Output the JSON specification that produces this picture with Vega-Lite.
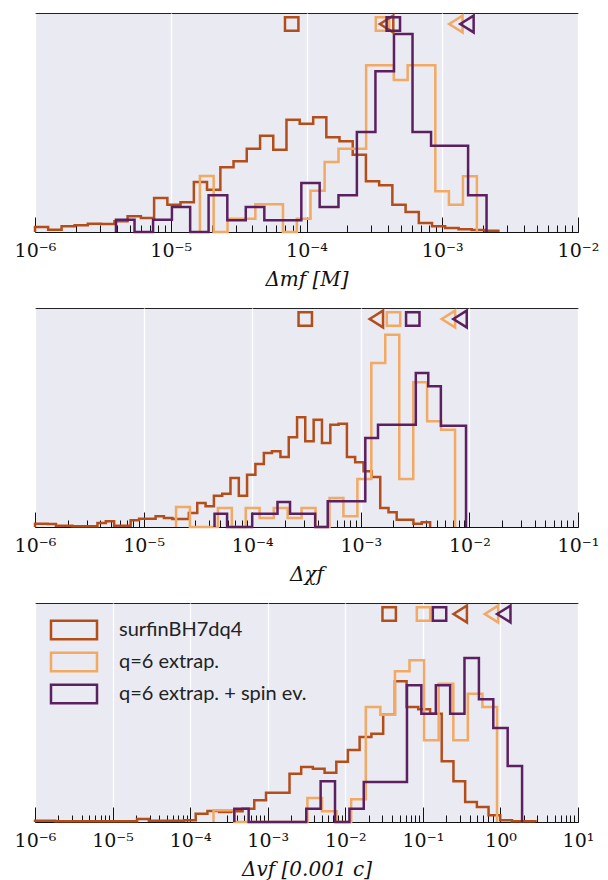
{
"$schema":"https://vega.github.io/schema/vega-lite/v6.json",
"padding":{"left":13,"top":10,"right":5,"bottom":5},
"background":"white",
"spacing":15,
"resolve":{"legend":{"color":"independent"}},
"config":{"view":{"fill":"#eaeaf2","stroke":"#222","strokeWidth":1},"font":"Liberation Serif"},
"datasets":{
"h":[
{"p":1,"s":"surfinBH7dq4","i":0,"x":1e-6,"y":0},{"p":1,"s":"surfinBH7dq4","i":1,"x":1e-6,"y":15},{"p":1,"s":"surfinBH7dq4","i":2,"x":1.25e-6,"y":7},{"p":1,"s":"surfinBH7dq4","i":3,"x":1.57e-6,"y":17},{"p":1,"s":"surfinBH7dq4","i":4,"x":1.96e-6,"y":20},{"p":1,"s":"surfinBH7dq4","i":5,"x":2.45e-6,"y":25},{"p":1,"s":"surfinBH7dq4","i":6,"x":3.07e-6,"y":24},{"p":1,"s":"surfinBH7dq4","i":7,"x":3.85e-6,"y":32},{"p":1,"s":"surfinBH7dq4","i":8,"x":4.81e-6,"y":47},{"p":1,"s":"surfinBH7dq4","i":9,"x":6.03e-6,"y":42},{"p":1,"s":"surfinBH7dq4","i":10,"x":7.54e-6,"y":102},{"p":1,"s":"surfinBH7dq4","i":11,"x":9.44e-6,"y":82},{"p":1,"s":"surfinBH7dq4","i":12,"x":1.18e-5,"y":89},{"p":1,"s":"surfinBH7dq4","i":13,"x":1.48e-5,"y":150},{"p":1,"s":"surfinBH7dq4","i":14,"x":1.85e-5,"y":127},{"p":1,"s":"surfinBH7dq4","i":15,"x":2.32e-5,"y":194},{"p":1,"s":"surfinBH7dq4","i":16,"x":2.9e-5,"y":212},{"p":1,"s":"surfinBH7dq4","i":17,"x":3.63e-5,"y":250},{"p":1,"s":"surfinBH7dq4","i":18,"x":4.55e-5,"y":289},{"p":1,"s":"surfinBH7dq4","i":19,"x":5.69e-5,"y":247},{"p":1,"s":"surfinBH7dq4","i":20,"x":7.12e-5,"y":337},{"p":1,"s":"surfinBH7dq4","i":21,"x":8.91e-5,"y":325},{"p":1,"s":"surfinBH7dq4","i":22,"x":1.12e-4,"y":344},{"p":1,"s":"surfinBH7dq4","i":23,"x":1.4e-4,"y":284},{"p":1,"s":"surfinBH7dq4","i":24,"x":1.75e-4,"y":272},{"p":1,"s":"surfinBH7dq4","i":25,"x":2.19e-4,"y":232},{"p":1,"s":"surfinBH7dq4","i":26,"x":2.74e-4,"y":152},{"p":1,"s":"surfinBH7dq4","i":27,"x":3.43e-4,"y":140},{"p":1,"s":"surfinBH7dq4","i":28,"x":4.29e-4,"y":82},{"p":1,"s":"surfinBH7dq4","i":29,"x":5.37e-4,"y":60},{"p":1,"s":"surfinBH7dq4","i":30,"x":6.72e-4,"y":27},{"p":1,"s":"surfinBH7dq4","i":31,"x":8.41e-4,"y":17},{"p":1,"s":"surfinBH7dq4","i":32,"x":1.05e-3,"y":12},{"p":1,"s":"surfinBH7dq4","i":33,"x":1.32e-3,"y":8},{"p":1,"s":"surfinBH7dq4","i":34,"x":1.65e-3,"y":6},{"p":1,"s":"surfinBH7dq4","i":35,"x":2.07e-3,"y":4},{"p":1,"s":"surfinBH7dq4","i":36,"x":2.59e-3,"y":0},
{"p":1,"s":"q=6 extrap.","i":0,"x":1.64e-5,"y":0},{"p":1,"s":"q=6 extrap.","i":1,"x":1.64e-5,"y":168},{"p":1,"s":"q=6 extrap.","i":2,"x":2.07e-5,"y":0},{"p":1,"s":"q=6 extrap.","i":3,"x":2.62e-5,"y":40},{"p":1,"s":"q=6 extrap.","i":4,"x":3.32e-5,"y":40},{"p":1,"s":"q=6 extrap.","i":5,"x":4.2e-5,"y":83},{"p":1,"s":"q=6 extrap.","i":6,"x":5.31e-5,"y":83},{"p":1,"s":"q=6 extrap.","i":7,"x":6.71e-5,"y":0},{"p":1,"s":"q=6 extrap.","i":8,"x":8.49e-5,"y":40},{"p":1,"s":"q=6 extrap.","i":9,"x":1.07e-4,"y":124},{"p":1,"s":"q=6 extrap.","i":10,"x":1.36e-4,"y":210},{"p":1,"s":"q=6 extrap.","i":11,"x":1.72e-4,"y":250},{"p":1,"s":"q=6 extrap.","i":12,"x":2.17e-4,"y":250},{"p":1,"s":"q=6 extrap.","i":13,"x":2.75e-4,"y":500},{"p":1,"s":"q=6 extrap.","i":14,"x":3.48e-4,"y":500},{"p":1,"s":"q=6 extrap.","i":15,"x":4.4e-4,"y":456},{"p":1,"s":"q=6 extrap.","i":16,"x":5.56e-4,"y":500},{"p":1,"s":"q=6 extrap.","i":17,"x":7.03e-4,"y":500},{"p":1,"s":"q=6 extrap.","i":18,"x":8.89e-4,"y":122},{"p":1,"s":"q=6 extrap.","i":19,"x":1.12e-3,"y":82},{"p":1,"s":"q=6 extrap.","i":20,"x":1.42e-3,"y":167},{"p":1,"s":"q=6 extrap.","i":21,"x":1.8e-3,"y":0},
{"p":1,"s":"q=6 extrap. + spin ev.","i":0,"x":3.95e-6,"y":0},{"p":1,"s":"q=6 extrap. + spin ev.","i":1,"x":3.95e-6,"y":37},{"p":1,"s":"q=6 extrap. + spin ev.","i":2,"x":5.41e-6,"y":0},{"p":1,"s":"q=6 extrap. + spin ev.","i":3,"x":7.41e-6,"y":37},{"p":1,"s":"q=6 extrap. + spin ev.","i":4,"x":1.02e-5,"y":75},{"p":1,"s":"q=6 extrap. + spin ev.","i":5,"x":1.39e-5,"y":0},{"p":1,"s":"q=6 extrap. + spin ev.","i":6,"x":1.9e-5,"y":110},{"p":1,"s":"q=6 extrap. + spin ev.","i":7,"x":2.61e-5,"y":35},{"p":1,"s":"q=6 extrap. + spin ev.","i":8,"x":3.57e-5,"y":75},{"p":1,"s":"q=6 extrap. + spin ev.","i":9,"x":4.89e-5,"y":35},{"p":1,"s":"q=6 extrap. + spin ev.","i":10,"x":6.69e-5,"y":35},{"p":1,"s":"q=6 extrap. + spin ev.","i":11,"x":9.16e-5,"y":147},{"p":1,"s":"q=6 extrap. + spin ev.","i":12,"x":1.25e-4,"y":75},{"p":1,"s":"q=6 extrap. + spin ev.","i":13,"x":1.72e-4,"y":110},{"p":1,"s":"q=6 extrap. + spin ev.","i":14,"x":2.35e-4,"y":300},{"p":1,"s":"q=6 extrap. + spin ev.","i":15,"x":3.22e-4,"y":482},{"p":1,"s":"q=6 extrap. + spin ev.","i":16,"x":4.41e-4,"y":594},{"p":1,"s":"q=6 extrap. + spin ev.","i":17,"x":6.04e-4,"y":300},{"p":1,"s":"q=6 extrap. + spin ev.","i":18,"x":8.27e-4,"y":259},{"p":1,"s":"q=6 extrap. + spin ev.","i":19,"x":1.13e-3,"y":259},{"p":1,"s":"q=6 extrap. + spin ev.","i":20,"x":1.55e-3,"y":110},{"p":1,"s":"q=6 extrap. + spin ev.","i":21,"x":2.12e-3,"y":0},
{"p":2,"s":"surfinBH7dq4","i":0,"x":1e-6,"y":0},{"p":2,"s":"surfinBH7dq4","i":1,"x":1e-6,"y":10},{"p":2,"s":"surfinBH7dq4","i":2,"x":1.31e-6,"y":9},{"p":2,"s":"surfinBH7dq4","i":3,"x":1.56e-6,"y":4},{"p":2,"s":"surfinBH7dq4","i":4,"x":1.86e-6,"y":4},{"p":2,"s":"surfinBH7dq4","i":5,"x":2.21e-6,"y":2},{"p":2,"s":"surfinBH7dq4","i":6,"x":2.64e-6,"y":2},{"p":2,"s":"surfinBH7dq4","i":7,"x":3.15e-6,"y":2},{"p":2,"s":"surfinBH7dq4","i":8,"x":3.76e-6,"y":12},{"p":2,"s":"surfinBH7dq4","i":9,"x":4.49e-6,"y":17},{"p":2,"s":"surfinBH7dq4","i":10,"x":5.35e-6,"y":4},{"p":2,"s":"surfinBH7dq4","i":11,"x":6.38e-6,"y":4},{"p":2,"s":"surfinBH7dq4","i":12,"x":7.6e-6,"y":20},{"p":2,"s":"surfinBH7dq4","i":13,"x":9.08e-6,"y":25},{"p":2,"s":"surfinBH7dq4","i":14,"x":1.08e-5,"y":25},{"p":2,"s":"surfinBH7dq4","i":15,"x":1.29e-5,"y":32},{"p":2,"s":"surfinBH7dq4","i":16,"x":1.54e-5,"y":27},{"p":2,"s":"surfinBH7dq4","i":17,"x":1.84e-5,"y":24},{"p":2,"s":"surfinBH7dq4","i":18,"x":2.19e-5,"y":24},{"p":2,"s":"surfinBH7dq4","i":19,"x":2.61e-5,"y":42},{"p":2,"s":"surfinBH7dq4","i":20,"x":3.12e-5,"y":72},{"p":2,"s":"surfinBH7dq4","i":21,"x":3.72e-5,"y":62},{"p":2,"s":"surfinBH7dq4","i":22,"x":4.44e-5,"y":94},{"p":2,"s":"surfinBH7dq4","i":23,"x":5.3e-5,"y":100},{"p":2,"s":"surfinBH7dq4","i":24,"x":6.31e-5,"y":147},{"p":2,"s":"surfinBH7dq4","i":25,"x":7.53e-5,"y":94},{"p":2,"s":"surfinBH7dq4","i":26,"x":8.97e-5,"y":157},{"p":2,"s":"surfinBH7dq4","i":27,"x":1.07e-4,"y":189},{"p":2,"s":"surfinBH7dq4","i":28,"x":1.28e-4,"y":222},{"p":2,"s":"surfinBH7dq4","i":29,"x":1.52e-4,"y":227},{"p":2,"s":"surfinBH7dq4","i":30,"x":1.82e-4,"y":210},{"p":2,"s":"surfinBH7dq4","i":31,"x":2.17e-4,"y":269},{"p":2,"s":"surfinBH7dq4","i":32,"x":2.59e-4,"y":329},{"p":2,"s":"surfinBH7dq4","i":33,"x":3.08e-4,"y":257},{"p":2,"s":"surfinBH7dq4","i":34,"x":3.68e-4,"y":322},{"p":2,"s":"surfinBH7dq4","i":35,"x":4.39e-4,"y":252},{"p":2,"s":"surfinBH7dq4","i":36,"x":5.24e-4,"y":307},{"p":2,"s":"surfinBH7dq4","i":37,"x":6.24e-4,"y":310},{"p":2,"s":"surfinBH7dq4","i":38,"x":7.45e-4,"y":210},{"p":2,"s":"surfinBH7dq4","i":39,"x":8.87e-4,"y":194},{"p":2,"s":"surfinBH7dq4","i":40,"x":1.06e-3,"y":167},{"p":2,"s":"surfinBH7dq4","i":41,"x":1.26e-3,"y":150},{"p":2,"s":"surfinBH7dq4","i":42,"x":1.51e-3,"y":57},{"p":2,"s":"surfinBH7dq4","i":43,"x":1.8e-3,"y":44},{"p":2,"s":"surfinBH7dq4","i":44,"x":2.14e-3,"y":22},{"p":2,"s":"surfinBH7dq4","i":45,"x":2.56e-3,"y":22},{"p":2,"s":"surfinBH7dq4","i":46,"x":3.05e-3,"y":10},{"p":2,"s":"surfinBH7dq4","i":47,"x":3.64e-3,"y":14},{"p":2,"s":"surfinBH7dq4","i":48,"x":4.35e-3,"y":0},
{"p":2,"s":"q=6 extrap.","i":0,"x":1.99e-5,"y":0},{"p":2,"s":"q=6 extrap.","i":1,"x":1.99e-5,"y":60},{"p":2,"s":"q=6 extrap.","i":2,"x":2.67e-5,"y":0},{"p":2,"s":"q=6 extrap.","i":3,"x":3.59e-5,"y":0},{"p":2,"s":"q=6 extrap.","i":4,"x":4.83e-5,"y":57},{"p":2,"s":"q=6 extrap.","i":5,"x":6.49e-5,"y":0},{"p":2,"s":"q=6 extrap.","i":6,"x":8.72e-5,"y":57},{"p":2,"s":"q=6 extrap.","i":7,"x":1.17e-4,"y":27},{"p":2,"s":"q=6 extrap.","i":8,"x":1.58e-4,"y":57},{"p":2,"s":"q=6 extrap.","i":9,"x":2.12e-4,"y":27},{"p":2,"s":"q=6 extrap.","i":10,"x":2.85e-4,"y":57},{"p":2,"s":"q=6 extrap.","i":11,"x":3.83e-4,"y":0},{"p":2,"s":"q=6 extrap.","i":12,"x":5.15e-4,"y":87},{"p":2,"s":"q=6 extrap.","i":13,"x":6.92e-4,"y":32},{"p":2,"s":"q=6 extrap.","i":14,"x":9.3e-4,"y":144},{"p":2,"s":"q=6 extrap.","i":15,"x":1.25e-3,"y":492},{"p":2,"s":"q=6 extrap.","i":16,"x":1.68e-3,"y":577},{"p":2,"s":"q=6 extrap.","i":17,"x":2.26e-3,"y":144},{"p":2,"s":"q=6 extrap.","i":18,"x":3.04e-3,"y":434},{"p":2,"s":"q=6 extrap.","i":19,"x":4.08e-3,"y":317},{"p":2,"s":"q=6 extrap.","i":20,"x":5.49e-3,"y":292},{"p":2,"s":"q=6 extrap.","i":21,"x":7.38e-3,"y":0},
{"p":2,"s":"q=6 extrap. + spin ev.","i":0,"x":4.5e-5,"y":0},{"p":2,"s":"q=6 extrap. + spin ev.","i":1,"x":4.5e-5,"y":40},{"p":2,"s":"q=6 extrap. + spin ev.","i":2,"x":5.87e-5,"y":0},{"p":2,"s":"q=6 extrap. + spin ev.","i":3,"x":7.67e-5,"y":0},{"p":2,"s":"q=6 extrap. + spin ev.","i":4,"x":1e-4,"y":40},{"p":2,"s":"q=6 extrap. + spin ev.","i":5,"x":1.31e-4,"y":40},{"p":2,"s":"q=6 extrap. + spin ev.","i":6,"x":1.71e-4,"y":75},{"p":2,"s":"q=6 extrap. + spin ev.","i":7,"x":2.23e-4,"y":40},{"p":2,"s":"q=6 extrap. + spin ev.","i":8,"x":2.91e-4,"y":40},{"p":2,"s":"q=6 extrap. + spin ev.","i":9,"x":3.8e-4,"y":0},{"p":2,"s":"q=6 extrap. + spin ev.","i":10,"x":4.96e-4,"y":77},{"p":2,"s":"q=6 extrap. + spin ev.","i":11,"x":6.47e-4,"y":77},{"p":2,"s":"q=6 extrap. + spin ev.","i":12,"x":8.45e-4,"y":77},{"p":2,"s":"q=6 extrap. + spin ev.","i":13,"x":1.1e-3,"y":267},{"p":2,"s":"q=6 extrap. + spin ev.","i":14,"x":1.44e-3,"y":307},{"p":2,"s":"q=6 extrap. + spin ev.","i":15,"x":1.88e-3,"y":307},{"p":2,"s":"q=6 extrap. + spin ev.","i":16,"x":2.45e-3,"y":307},{"p":2,"s":"q=6 extrap. + spin ev.","i":17,"x":3.21e-3,"y":462},{"p":2,"s":"q=6 extrap. + spin ev.","i":18,"x":4.18e-3,"y":422},{"p":2,"s":"q=6 extrap. + spin ev.","i":19,"x":5.46e-3,"y":304},{"p":2,"s":"q=6 extrap. + spin ev.","i":20,"x":7.13e-3,"y":304},{"p":2,"s":"q=6 extrap. + spin ev.","i":21,"x":9.31e-3,"y":0},
{"p":3,"s":"surfinBH7dq4","i":0,"x":1e-6,"y":0},{"p":3,"s":"surfinBH7dq4","i":1,"x":1e-6,"y":4},{"p":3,"s":"surfinBH7dq4","i":2,"x":1.29e-6,"y":4},{"p":3,"s":"surfinBH7dq4","i":3,"x":1.82e-6,"y":2},{"p":3,"s":"surfinBH7dq4","i":4,"x":2.58e-6,"y":2},{"p":3,"s":"surfinBH7dq4","i":5,"x":3.65e-6,"y":2},{"p":3,"s":"surfinBH7dq4","i":6,"x":5.16e-6,"y":2},{"p":3,"s":"surfinBH7dq4","i":7,"x":7.31e-6,"y":2},{"p":3,"s":"surfinBH7dq4","i":8,"x":1.04e-5,"y":2},{"p":3,"s":"surfinBH7dq4","i":9,"x":1.47e-5,"y":2},{"p":3,"s":"surfinBH7dq4","i":10,"x":2.07e-5,"y":9},{"p":3,"s":"surfinBH7dq4","i":11,"x":2.94e-5,"y":4},{"p":3,"s":"surfinBH7dq4","i":12,"x":4.16e-5,"y":4},{"p":3,"s":"surfinBH7dq4","i":13,"x":5.89e-5,"y":4},{"p":3,"s":"surfinBH7dq4","i":14,"x":8.34e-5,"y":5},{"p":3,"s":"surfinBH7dq4","i":15,"x":1.18e-4,"y":25},{"p":3,"s":"surfinBH7dq4","i":16,"x":1.67e-4,"y":33},{"p":3,"s":"surfinBH7dq4","i":17,"x":2.37e-4,"y":30},{"p":3,"s":"surfinBH7dq4","i":18,"x":3.35e-4,"y":32},{"p":3,"s":"surfinBH7dq4","i":19,"x":4.74e-4,"y":40},{"p":3,"s":"surfinBH7dq4","i":20,"x":6.71e-4,"y":65},{"p":3,"s":"surfinBH7dq4","i":21,"x":9.51e-4,"y":88},{"p":3,"s":"surfinBH7dq4","i":22,"x":1.35e-3,"y":88},{"p":3,"s":"surfinBH7dq4","i":23,"x":1.91e-3,"y":145},{"p":3,"s":"surfinBH7dq4","i":24,"x":2.7e-3,"y":165},{"p":3,"s":"surfinBH7dq4","i":25,"x":3.82e-3,"y":160},{"p":3,"s":"surfinBH7dq4","i":26,"x":5.41e-3,"y":148},{"p":3,"s":"surfinBH7dq4","i":27,"x":7.66e-3,"y":181},{"p":3,"s":"surfinBH7dq4","i":28,"x":1.08e-2,"y":216},{"p":3,"s":"surfinBH7dq4","i":29,"x":1.53e-2,"y":255},{"p":3,"s":"surfinBH7dq4","i":30,"x":2.17e-2,"y":265},{"p":3,"s":"surfinBH7dq4","i":31,"x":3.08e-2,"y":322},{"p":3,"s":"surfinBH7dq4","i":32,"x":4.36e-2,"y":422},{"p":3,"s":"surfinBH7dq4","i":33,"x":6.17e-2,"y":345},{"p":3,"s":"surfinBH7dq4","i":34,"x":8.73e-2,"y":338},{"p":3,"s":"surfinBH7dq4","i":35,"x":0.124,"y":325},{"p":3,"s":"surfinBH7dq4","i":36,"x":0.175,"y":182},{"p":3,"s":"surfinBH7dq4","i":37,"x":0.248,"y":122},{"p":3,"s":"surfinBH7dq4","i":38,"x":0.351,"y":60},{"p":3,"s":"surfinBH7dq4","i":39,"x":0.497,"y":45},{"p":3,"s":"surfinBH7dq4","i":40,"x":0.703,"y":20},{"p":3,"s":"surfinBH7dq4","i":41,"x":0.995,"y":5},{"p":3,"s":"surfinBH7dq4","i":42,"x":1.409,"y":2},{"p":3,"s":"surfinBH7dq4","i":43,"x":1.995,"y":2},{"p":3,"s":"surfinBH7dq4","i":44,"x":2.825,"y":0},
{"p":3,"s":"q=6 extrap.","i":0,"x":2.0e-4,"y":0},{"p":3,"s":"q=6 extrap.","i":1,"x":2.0e-4,"y":35},{"p":3,"s":"q=6 extrap.","i":2,"x":3.72e-4,"y":0},{"p":3,"s":"q=6 extrap.","i":3,"x":3.25e-3,"y":72},{"p":3,"s":"q=6 extrap.","i":4,"x":5.01e-3,"y":32},{"p":3,"s":"q=6 extrap.","i":5,"x":7.73e-3,"y":0},{"p":3,"s":"q=6 extrap.","i":6,"x":1.19e-2,"y":68},{"p":3,"s":"q=6 extrap.","i":7,"x":1.84e-2,"y":345},{"p":3,"s":"q=6 extrap.","i":8,"x":2.83e-2,"y":322},{"p":3,"s":"q=6 extrap.","i":9,"x":4.37e-2,"y":452},{"p":3,"s":"q=6 extrap.","i":10,"x":6.73e-2,"y":485},{"p":3,"s":"q=6 extrap.","i":11,"x":0.1037,"y":245},{"p":3,"s":"q=6 extrap.","i":12,"x":0.16,"y":415},{"p":3,"s":"q=6 extrap.","i":13,"x":0.247,"y":245},{"p":3,"s":"q=6 extrap.","i":14,"x":0.38,"y":385},{"p":3,"s":"q=6 extrap.","i":15,"x":0.586,"y":345},{"p":3,"s":"q=6 extrap.","i":16,"x":0.904,"y":0},
{"p":3,"s":"q=6 extrap. + spin ev.","i":0,"x":3.71e-4,"y":0},{"p":3,"s":"q=6 extrap. + spin ev.","i":1,"x":3.71e-4,"y":40},{"p":3,"s":"q=6 extrap. + spin ev.","i":2,"x":5.68e-4,"y":0},{"p":3,"s":"q=6 extrap. + spin ev.","i":3,"x":3.14e-3,"y":40},{"p":3,"s":"q=6 extrap. + spin ev.","i":4,"x":4.81e-3,"y":122},{"p":3,"s":"q=6 extrap. + spin ev.","i":5,"x":7.37e-3,"y":0},{"p":3,"s":"q=6 extrap. + spin ev.","i":6,"x":1.13e-2,"y":40},{"p":3,"s":"q=6 extrap. + spin ev.","i":7,"x":1.73e-2,"y":120},{"p":3,"s":"q=6 extrap. + spin ev.","i":8,"x":6.24e-2,"y":410},{"p":3,"s":"q=6 extrap. + spin ev.","i":9,"x":9.56e-2,"y":325},{"p":3,"s":"q=6 extrap. + spin ev.","i":10,"x":0.147,"y":410},{"p":3,"s":"q=6 extrap. + spin ev.","i":11,"x":0.225,"y":325},{"p":3,"s":"q=6 extrap. + spin ev.","i":12,"x":0.344,"y":492},{"p":3,"s":"q=6 extrap. + spin ev.","i":13,"x":0.528,"y":368},{"p":3,"s":"q=6 extrap. + spin ev.","i":14,"x":0.809,"y":282},{"p":3,"s":"q=6 extrap. + spin ev.","i":15,"x":1.24,"y":168},{"p":3,"s":"q=6 extrap. + spin ev.","i":16,"x":1.901,"y":0}
],
"m":[
{"p":1,"s":"surfinBH7dq4","stat":"median","x":7.78e-5,"y":624},{"p":1,"s":"q=6 extrap.","stat":"median","x":3.63e-4,"y":624},{"p":1,"s":"surfinBH7dq4","stat":"95th percentile","x":3.89e-4,"y":624},{"p":1,"s":"q=6 extrap. + spin ev.","stat":"median","x":4.36e-4,"y":624},{"p":1,"s":"q=6 extrap.","stat":"95th percentile","x":1.26e-3,"y":624},{"p":1,"s":"q=6 extrap. + spin ev.","stat":"95th percentile","x":1.52e-3,"y":624},
{"p":2,"s":"surfinBH7dq4","stat":"median","x":3.08e-4,"y":624},{"p":2,"s":"surfinBH7dq4","stat":"95th percentile","x":1.39e-3,"y":624},{"p":2,"s":"q=6 extrap.","stat":"median","x":2.0e-3,"y":624},{"p":2,"s":"q=6 extrap.","stat":"95th percentile","x":6.41e-3,"y":624},{"p":2,"s":"q=6 extrap. + spin ev.","stat":"median","x":3.01e-3,"y":624},{"p":2,"s":"q=6 extrap. + spin ev.","stat":"95th percentile","x":8.2e-3,"y":624},
{"p":3,"s":"surfinBH7dq4","stat":"median","x":3.68e-2,"y":624},{"p":3,"s":"surfinBH7dq4","stat":"95th percentile","x":0.303,"y":624},{"p":3,"s":"q=6 extrap.","stat":"median","x":0.102,"y":624},{"p":3,"s":"q=6 extrap.","stat":"95th percentile","x":0.766,"y":624},{"p":3,"s":"q=6 extrap. + spin ev.","stat":"median","x":0.164,"y":624},{"p":3,"s":"q=6 extrap. + spin ev.","stat":"95th percentile","x":1.104,"y":624}
]
},
"vconcat":[
{"width":543,"height":219,
"layer":[
{"data":{"name":"h"},"transform":[{"filter":"datum.p == 1 && datum.s == 'surfinBH7dq4'"}],"mark":{"type":"line","interpolate":"step-after","strokeWidth":2.5},
"encoding":{
"x":{"field":"x","type":"quantitative","title":"Δmf [M]","scale":{"type":"log","domain":[1e-6,0.01],"nice":false},
"axis":{"values":[1e-6,2e-6,3e-6,4e-6,5e-6,6e-6,7e-6,8e-6,9e-6,1e-5,2e-5,3e-5,4e-5,5e-5,6e-5,7e-5,8e-5,9e-5,1e-4,2e-4,3e-4,4e-4,5e-4,6e-4,7e-4,8e-4,9e-4,1e-3,2e-3,3e-3,4e-3,5e-3,6e-3,7e-3,8e-3,9e-3,1e-2],
"labelExpr":"abs(log(datum.value)/LN10 - round(log(datum.value)/LN10)) < 0.001 ? '10' + (round(log(datum.value)/LN10) < 0 ? '⁻' : '') + ['⁰','¹','²','³','⁴','⁵','⁶','⁷','⁸','⁹'][abs(round(log(datum.value)/LN10))] : ''",
"labelFont":"DejaVu Serif","labelFontSize":19,"labelColor":"#111","labelOverlap":false,"labelFlush":false,"labelBound":false,"labelPadding":24,
"tickSize":{"condition":{"test":"abs(log(datum.value)/LN10 - round(log(datum.value)/LN10)) < 0.001","value":-15},"value":-7},
"tickColor":"#111","tickWidth":1,"domainColor":"#111","domainWidth":1,
"grid":true,"gridColor":"white","gridWidth":1.3,"gridOpacity":{"condition":{"test":"abs(log(datum.value)/LN10 - round(log(datum.value)/LN10)) < 0.001","value":1},"value":0},
"titleFont":"DejaVu Serif","titleFontSize":20,"titleFontWeight":"normal","titleFontStyle":"italic","titleColor":"#111","titlePadding":1}},
"y":{"field":"y","type":"quantitative","scale":{"domain":[0,657],"nice":false,"zero":false},"axis":null},
"order":{"field":"i"},
"color":{"field":"s","type":"nominal","scale":{"domain":["surfinBH7dq4","q=6 extrap.","q=6 extrap. + spin ev."],"range":["#b34e1b","#f1a963","#5b2060"]},"legend":null}}},
{"data":{"name":"h"},"transform":[{"filter":"datum.p == 1 && datum.s == 'q=6 extrap.'"}],"mark":{"type":"line","interpolate":"step-after","strokeWidth":2.5},
"encoding":{"x":{"field":"x","type":"quantitative"},"y":{"field":"y","type":"quantitative"},"order":{"field":"i"},"color":{"field":"s","type":"nominal","legend":null}}},
{"data":{"name":"h"},"transform":[{"filter":"datum.p == 1 && datum.s == 'q=6 extrap. + spin ev.'"}],"mark":{"type":"line","interpolate":"step-after","strokeWidth":2.5},
"encoding":{"x":{"field":"x","type":"quantitative"},"y":{"field":"y","type":"quantitative"},"order":{"field":"i"},"color":{"field":"s","type":"nominal","legend":null}}},
{"data":{"name":"m"},"transform":[{"filter":"datum.p == 1"}],"mark":{"type":"point","filled":false,"strokeWidth":2.5,"size":180,"opacity":1},
"encoding":{"x":{"field":"x","type":"quantitative"},"y":{"field":"y","type":"quantitative"},"color":{"field":"s","type":"nominal","legend":null},
"shape":{"field":"stat","type":"nominal","scale":{"domain":["median","95th percentile"],"range":["square","M-1,0L1,-1.25L1,1.25Z"]},"legend":null}}}
]},
{"width":543,"height":219,
"layer":[
{"data":{"name":"h"},"transform":[{"filter":"datum.p == 2 && datum.s == 'surfinBH7dq4'"}],"mark":{"type":"line","interpolate":"step-after","strokeWidth":2.5},
"encoding":{
"x":{"field":"x","type":"quantitative","title":"Δχf","scale":{"type":"log","domain":[1e-6,0.1],"nice":false},
"axis":{"values":[1e-6,2e-6,3e-6,4e-6,5e-6,6e-6,7e-6,8e-6,9e-6,1e-5,2e-5,3e-5,4e-5,5e-5,6e-5,7e-5,8e-5,9e-5,1e-4,2e-4,3e-4,4e-4,5e-4,6e-4,7e-4,8e-4,9e-4,1e-3,2e-3,3e-3,4e-3,5e-3,6e-3,7e-3,8e-3,9e-3,1e-2,2e-2,3e-2,4e-2,5e-2,6e-2,7e-2,8e-2,9e-2,1e-1],
"labelExpr":"abs(log(datum.value)/LN10 - round(log(datum.value)/LN10)) < 0.001 ? '10' + (round(log(datum.value)/LN10) < 0 ? '⁻' : '') + ['⁰','¹','²','³','⁴','⁵','⁶','⁷','⁸','⁹'][abs(round(log(datum.value)/LN10))] : ''",
"labelFont":"DejaVu Serif","labelFontSize":19,"labelColor":"#111","labelOverlap":false,"labelFlush":false,"labelBound":false,"labelPadding":24,
"tickSize":{"condition":{"test":"abs(log(datum.value)/LN10 - round(log(datum.value)/LN10)) < 0.001","value":-15},"value":-7},
"tickColor":"#111","tickWidth":1,"domainColor":"#111","domainWidth":1,
"grid":true,"gridColor":"white","gridWidth":1.3,"gridOpacity":{"condition":{"test":"abs(log(datum.value)/LN10 - round(log(datum.value)/LN10)) < 0.001","value":1},"value":0},
"titleFont":"DejaVu Serif","titleFontSize":20,"titleFontWeight":"normal","titleFontStyle":"italic","titleColor":"#111","titlePadding":1}},
"y":{"field":"y","type":"quantitative","scale":{"domain":[0,657],"nice":false,"zero":false},"axis":null},
"order":{"field":"i"},
"color":{"field":"s","type":"nominal","scale":{"domain":["surfinBH7dq4","q=6 extrap.","q=6 extrap. + spin ev."],"range":["#b34e1b","#f1a963","#5b2060"]},"legend":null}}},
{"data":{"name":"h"},"transform":[{"filter":"datum.p == 2 && datum.s == 'q=6 extrap.'"}],"mark":{"type":"line","interpolate":"step-after","strokeWidth":2.5},
"encoding":{"x":{"field":"x","type":"quantitative"},"y":{"field":"y","type":"quantitative"},"order":{"field":"i"},"color":{"field":"s","type":"nominal","legend":null}}},
{"data":{"name":"h"},"transform":[{"filter":"datum.p == 2 && datum.s == 'q=6 extrap. + spin ev.'"}],"mark":{"type":"line","interpolate":"step-after","strokeWidth":2.5},
"encoding":{"x":{"field":"x","type":"quantitative"},"y":{"field":"y","type":"quantitative"},"order":{"field":"i"},"color":{"field":"s","type":"nominal","legend":null}}},
{"data":{"name":"m"},"transform":[{"filter":"datum.p == 2"}],"mark":{"type":"point","filled":false,"strokeWidth":2.5,"size":180,"opacity":1},
"encoding":{"x":{"field":"x","type":"quantitative"},"y":{"field":"y","type":"quantitative"},"color":{"field":"s","type":"nominal","legend":null},
"shape":{"field":"stat","type":"nominal","scale":{"domain":["median","95th percentile"],"range":["square","M-1,0L1,-1.25L1,1.25Z"]},"legend":null}}}
]},
{"width":543,"height":219,
"layer":[
{"data":{"name":"h"},"transform":[{"filter":"datum.p == 3 && datum.s == 'surfinBH7dq4'"}],"mark":{"type":"line","interpolate":"step-after","strokeWidth":2.5},
"encoding":{
"x":{"field":"x","type":"quantitative","title":"Δvf [0.001 c]","scale":{"type":"log","domain":[1e-6,10],"nice":false},
"axis":{"values":[1e-6,2e-6,3e-6,4e-6,5e-6,6e-6,7e-6,8e-6,9e-6,1e-5,2e-5,3e-5,4e-5,5e-5,6e-5,7e-5,8e-5,9e-5,1e-4,2e-4,3e-4,4e-4,5e-4,6e-4,7e-4,8e-4,9e-4,1e-3,2e-3,3e-3,4e-3,5e-3,6e-3,7e-3,8e-3,9e-3,1e-2,2e-2,3e-2,4e-2,5e-2,6e-2,7e-2,8e-2,9e-2,0.1,0.2,0.3,0.4,0.5,0.6,0.7,0.8,0.9,1,2,3,4,5,6,7,8,9,10],
"labelExpr":"abs(log(datum.value)/LN10 - round(log(datum.value)/LN10)) < 0.001 ? '10' + (round(log(datum.value)/LN10) < 0 ? '⁻' : '') + ['⁰','¹','²','³','⁴','⁵','⁶','⁷','⁸','⁹'][abs(round(log(datum.value)/LN10))] : ''",
"labelFont":"DejaVu Serif","labelFontSize":19,"labelColor":"#111","labelOverlap":false,"labelFlush":false,"labelBound":false,"labelPadding":24,
"tickSize":{"condition":{"test":"abs(log(datum.value)/LN10 - round(log(datum.value)/LN10)) < 0.001","value":-15},"value":-7},
"tickColor":"#111","tickWidth":1,"domainColor":"#111","domainWidth":1,
"grid":true,"gridColor":"white","gridWidth":1.3,"gridOpacity":{"condition":{"test":"abs(log(datum.value)/LN10 - round(log(datum.value)/LN10)) < 0.001","value":1},"value":0},
"titleFont":"DejaVu Serif","titleFontSize":20,"titleFontWeight":"normal","titleFontStyle":"italic","titleColor":"#111","titlePadding":1}},
"y":{"field":"y","type":"quantitative","scale":{"domain":[0,657],"nice":false,"zero":false},"axis":null},
"order":{"field":"i"},
"color":{"field":"s","type":"nominal","scale":{"domain":["surfinBH7dq4","q=6 extrap.","q=6 extrap. + spin ev."],"range":["#b34e1b","#f1a963","#5b2060"]},
"legend":{"orient":"none","legendX":26,"legendY":14,"title":null,"symbolType":"M-2,-0.8L2,-0.8L2,0.8L-2,0.8Z","symbolSize":529,"symbolStrokeWidth":2.5,"symbolFillColor":"transparent","labelFont":"Lato","labelFontSize":20,"labelColor":"#222","labelOffset":32,"rowPadding":2,"padding":0,"labelLimit":400}}}},
{"data":{"name":"h"},"transform":[{"filter":"datum.p == 3 && datum.s == 'q=6 extrap.'"}],"mark":{"type":"line","interpolate":"step-after","strokeWidth":2.5},
"encoding":{"x":{"field":"x","type":"quantitative"},"y":{"field":"y","type":"quantitative"},"order":{"field":"i"},"color":{"field":"s","type":"nominal"}}},
{"data":{"name":"h"},"transform":[{"filter":"datum.p == 3 && datum.s == 'q=6 extrap. + spin ev.'"}],"mark":{"type":"line","interpolate":"step-after","strokeWidth":2.5},
"encoding":{"x":{"field":"x","type":"quantitative"},"y":{"field":"y","type":"quantitative"},"order":{"field":"i"},"color":{"field":"s","type":"nominal"}}},
{"data":{"name":"m"},"transform":[{"filter":"datum.p == 3"}],"mark":{"type":"point","filled":false,"strokeWidth":2.5,"size":180,"opacity":1},
"encoding":{"x":{"field":"x","type":"quantitative"},"y":{"field":"y","type":"quantitative"},"color":{"field":"s","type":"nominal","legend":null},
"shape":{"field":"stat","type":"nominal","scale":{"domain":["median","95th percentile"],"range":["square","M-1,0L1,-1.25L1,1.25Z"]},"legend":null}}}
]}
]
}
